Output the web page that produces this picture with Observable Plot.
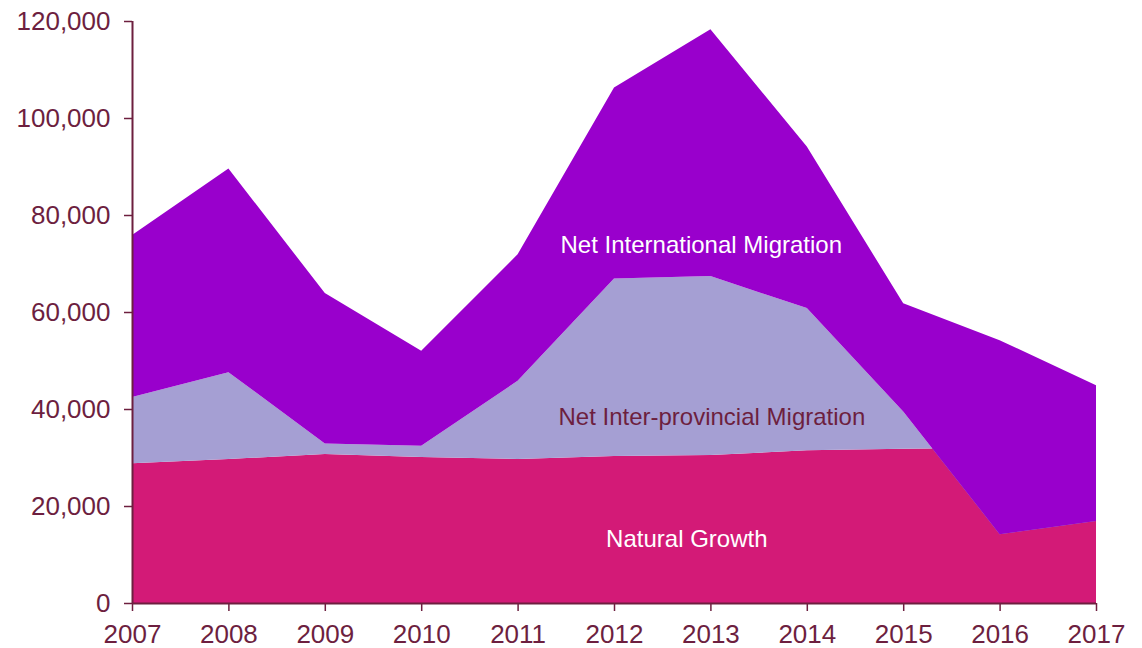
<!DOCTYPE html>
<html>
<head>
<meta charset="utf-8">
<script src="https://cdn.jsdelivr.net/npm/d3@7"></script>
<script src="https://cdn.jsdelivr.net/npm/@observablehq/plot@0.6"></script>
<style>
  html, body { margin: 0; padding: 0; background: #fff; }
  #chart svg { display: block; font-family: Arial, "Liberation Sans", sans-serif; }
</style>
</head>
<body>
<div id="chart"></div>
<script>
const years = [2007, 2008, 2009, 2010, 2011, 2012, 2013, 2014, 2015, 2016, 2017];
const naturalGrowth = [28800, 29700, 30700, 30100, 29700, 30300, 30500, 31500, 31800, 32000, 31000];
const interProvincial = [13700, 17900, 2200, 2300, 16100, 36600, 36900, 29300, 7700, -17800, -14100];
const international = [33400, 42000, 31000, 19600, 26100, 39400, 50900, 33300, 22300, 40000, 28000];
const yTicks = [0, 20000, 40000, 60000, 80000, 100000, 120000];
const seriesLabels = ["Net International Migration", "Net Inter-provincial Migration", "Natural Growth"];
const labelYears = [2012.9, 2013.01, 2012.75];
const labelValues = [73800, 38400, 13200];

const colors = { ng: "#D31A77", ip: "#A59FD3", intl: "#9900CC", text: "#6D1F3F" };

const rows = years.map((year, i) => {
  const ng = naturalGrowth[i];
  const ngip = ng + interProvincial[i];
  const total = ngip + international[i];
  return { year, ng, ngip, total };
});

const labels = seriesLabels.map((t, i) => ({ t, x: labelYears[i], y: labelValues[i], fill: i === 1 ? colors.text : "#ffffff" }));

const chart = Plot.plot({
  width: 1142,
  height: 648,
  marginLeft: 132,
  marginRight: 46,
  marginTop: 21,
  marginBottom: 45,
  style: { fontFamily: "Arial, 'Liberation Sans', sans-serif", background: "#fff" },
  x: { domain: [2007, 2017] },
  y: { domain: [0, 120000] },
  marks: [
    Plot.areaY(rows, { x: "year", y1: 0, y2: "ng", fill: colors.ng }),
    Plot.areaY(rows, { x: "year", y1: "ng", y2: "ngip", fill: colors.ip }),
    Plot.areaY(rows, { x: "year", y1: "ngip", y2: "total", fill: colors.intl }),
    Plot.text(labels, { x: "x", y: "y", text: "t", fill: "fill", fontSize: 24, textAnchor: "middle" }),
    Plot.axisY({ ticks: yTicks, tickFormat: d3.format(","), tickSize: 8, tickPadding: 14, fontSize: 26, color: colors.text, stroke: colors.text, strokeWidth: 1.5, label: null }),
    Plot.axisX({ ticks: years, tickFormat: d3.format("d"), tickSize: 8, tickPadding: 13, fontSize: 26, color: colors.text, stroke: colors.text, strokeWidth: 1.5, label: null }),
    Plot.ruleX([2007], { stroke: colors.text, strokeWidth: 2 }),
    Plot.ruleY([0], { stroke: colors.text, strokeWidth: 2 })
  ]
});
document.getElementById("chart").appendChild(chart);
</script>
</body>
</html>
